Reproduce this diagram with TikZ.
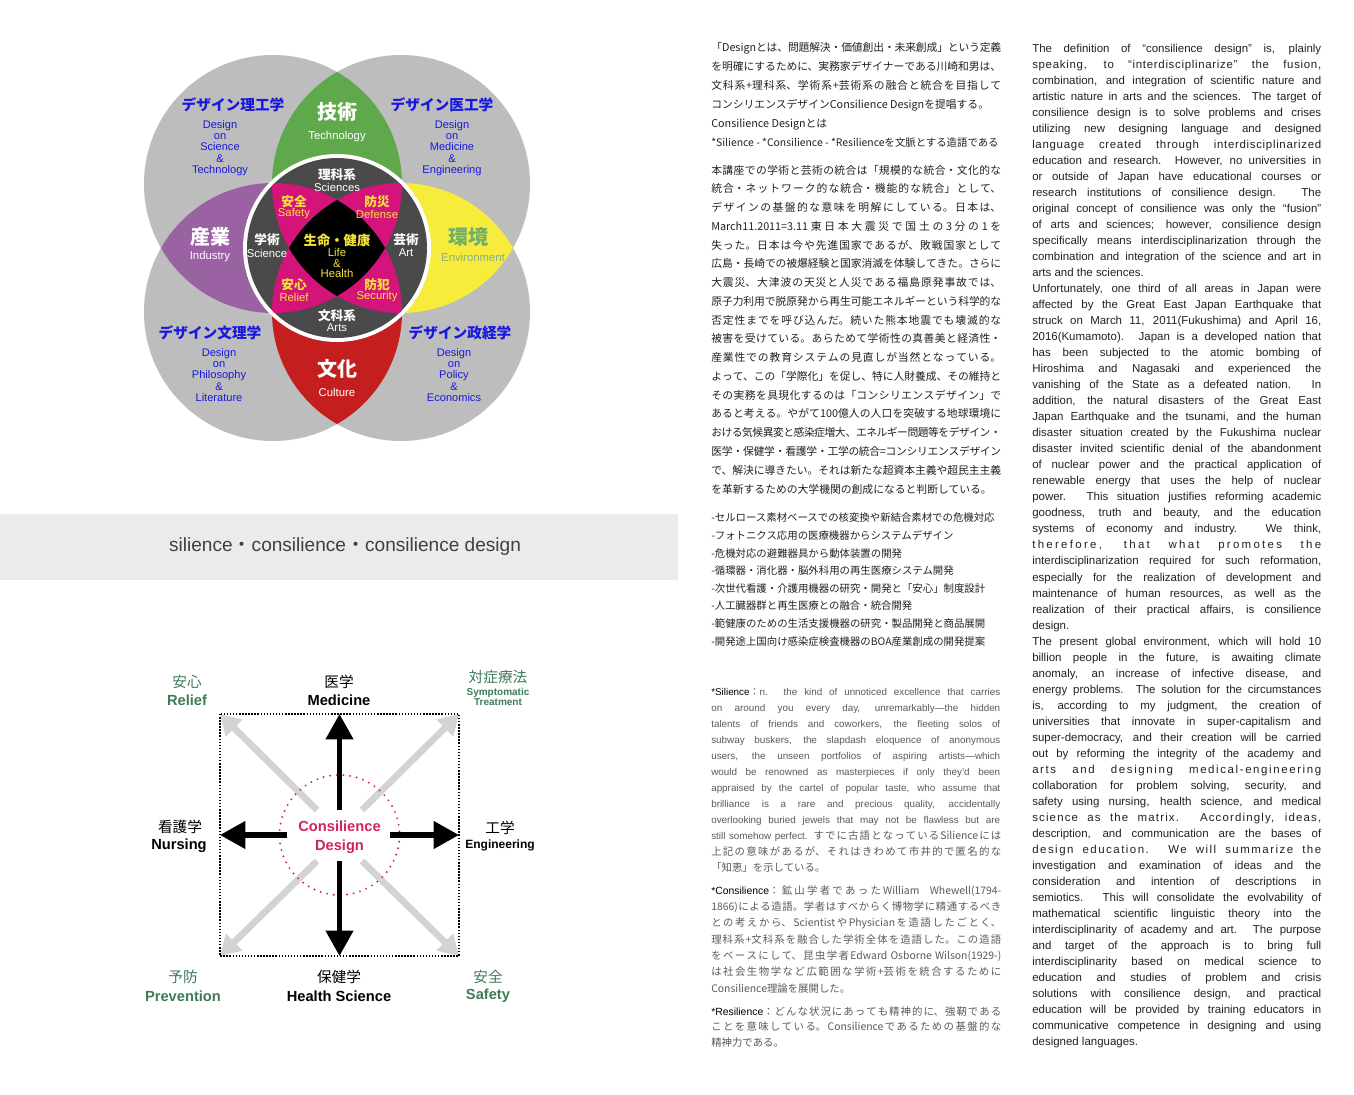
\documentclass[tikz,border=0pt]{standalone}
\usepackage{fontspec}
\setmainfont{Liberation Sans}
\newfontfamily\jp{Noto Sans CJK JP}
\usetikzlibrary{arrows.meta}

\definecolor{vgray}{HTML}{BDBDBD}
\definecolor{vgreen}{HTML}{5FA84C}
\definecolor{vpurple}{HTML}{9A62A2}
\definecolor{vyellow}{HTML}{F7EC3B}
\definecolor{vred}{HTML}{C41E1E}
\definecolor{vdark}{HTML}{4A4A4A}
\definecolor{vmag}{HTML}{D4137B}
\definecolor{vblue}{HTML}{1818E0}
\definecolor{vgold}{HTML}{F4E43A}
\definecolor{envgreen}{HTML}{6FAF6B}
\definecolor{envtext}{HTML}{86AD86}
\definecolor{labgreen}{HTML}{3E7B58}
\definecolor{cdred}{HTML}{D2245C}
\definecolor{band}{HTML}{EBEBEB}
\definecolor{arrgray}{HTML}{D3D3D3}
\definecolor{bodytext}{HTML}{222222}
\definecolor{notetext}{HTML}{5A5A5A}

\newlength\colw \setlength\colw{216.75pt}
\newlength\jw \setlength\jw{217.5pt}
\newcommand\jpset{\jp\XeTeXlinebreaklocale "ja"\XeTeXlinebreakskip=0pt plus 1.5pt minus 0.6pt\relax}
% english line, spread to the column
\newcommand\jl[1]{\makebox[\colw][s]{#1}\\}
% japanese line, spread to the column
\newcommand\jj[1]{\parbox[t]{\jw}{\tolerance=200\parfillskip=0pt\relax\leavevmode#1\par}\\}

\begin{document}
\begin{tikzpicture}[x=0.75pt, y=-0.75pt,
  every node/.style={inner sep=0pt},
  vtitle/.style={font=\jp\bfseries\fontsize{11}{11}\selectfont, text=vblue},
  vsub/.style={align=center, font=\fontsize{8.3}{8.4}\selectfont, text=vblue},
  vbig/.style={font=\jp\bfseries\fontsize{15}{15}\selectfont, text=white},
  ven/.style={font=\fontsize{8.5}{8.5}\selectfont, text=white},
  vmid/.style={font=\jp\bfseries\fontsize{9.5}{9.5}\selectfont, text=white},
  petal/.style={vmid, text=vgold},
  petalen/.style={ven, text=vgold},
  bjp/.style={font=\jp\fontsize{11}{11}\selectfont},
  ben/.style={font=\bfseries\fontsize{11}{11}\selectfont},
  blackarrow/.style={line width=3.9pt, -{Triangle[width=20pt,length=19pt]}},
  grayarrow/.style={draw=arrgray, line width=5pt, -{Triangle[width=17pt,length=15pt]}},
  sqdot/.style={line width=1.1pt, dash pattern=on 1.1pt off 1.2pt},
  cdcircle/.style={draw=cdred, line width=1.6pt, line cap=round, dash pattern=on 0pt off 5pt},
  jpblock/.style={anchor=base west, align=left},
  enblock/.style={anchor=base west, align=left, text=bodytext, font=\fontsize{8.6}{12.02}\selectfont}]

\useasboundingbox (0,0) rectangle (1354,1095);
\fill[white] (0,0) rectangle (1354,1095);

% ---- venn of four fields
\coordinate (tl) at (273,184);
\coordinate (tr) at (401,184);
\coordinate (bl) at (273,312);
\coordinate (br) at (401,312);
\coordinate (cc) at (337,248);

\fill[vgray] (tl) circle (129) (tr) circle (129) (bl) circle (129) (br) circle (129);
\begin{scope}\clip (tl) circle (129); \fill[vgreen] (tr) circle (129);\end{scope}
\begin{scope}\clip (tl) circle (129); \fill[vpurple] (bl) circle (129);\end{scope}
\begin{scope}\clip (tr) circle (129); \fill[vyellow] (br) circle (129);\end{scope}
\begin{scope}\clip (bl) circle (129); \fill[vred] (br) circle (129);\end{scope}

\fill[white] (cc) circle (94);
\fill[vdark] (cc) circle (90);
% three fields overlap
\begin{scope}
  \clip (cc) circle (90); \clip (tl) circle (129); \clip (tr) circle (129);
  \fill[vmag] (bl) circle (129) (br) circle (129);
\end{scope}
\begin{scope}
  \clip (cc) circle (90); \clip (bl) circle (129); \clip (br) circle (129);
  \fill[vmag] (tl) circle (129) (tr) circle (129);
\end{scope}
% all four
\begin{scope}
  \clip (tl) circle (129); \clip (tr) circle (129); \clip (bl) circle (129);
  \fill[black] (br) circle (129);
\end{scope}

\node[vtitle] (dst) at (233,105) {デザイン理工学};
\node[vsub] (dstEn) at (220,148) {Design\\on\\Science\\\&\\Technology};
\node[vtitle] (dme) at (442,105) {デザイン医工学};
\node[vsub] (dmeEn) at (452,148) {Design\\on\\Medicine\\\&\\Engineering};
\node[vtitle] (dpl) at (210,333) {デザイン文理学};
\node[vsub] (dplEn) at (219,375) {Design\\on\\Philosophy\\\&\\Literature};
\node[vtitle] (dpe) at (460,333) {デザイン政経学};
\node[vsub] (dpeEn) at (454,375) {Design\\on\\Policy\\\&\\Economics};

\node[vbig] (tech) at (337,112) {技術};
\node[ven] (techEn) at (337,137) {Technology};
\node[vbig] (ind) at (210,237) {産業};
\node[ven] (indEn) at (210,257) {Industry};
\node[vbig, text=envgreen] (env) at (468,237) {環境};
\node[ven, text=envtext] (envEn) at (473,257) {Environment};
\node[vbig] (cul) at (337,369) {文化};
\node[ven] (culEn) at (337,392) {Culture};

\node[vmid] (sci) at (337,175) {理科系};
\node[ven] (sciEn) at (337,187) {Sciences};
\node[vmid] (arts) at (337,316) {文科系};
\node[ven] (artsEn) at (337,328) {Arts};
\node[vmid] (gak) at (267,240) {学術};
\node[ven] (gakEn) at (267,253) {Science};
\node[vmid] (gei) at (406,240) {芸術};
\node[ven] (geiEn) at (406,253) {Art};

\node[petal] (saf) at (294,202) {安全};
\node[petalen] (safEn) at (294,214) {Safety};
\node[petal] (def) at (377,202) {防災};
\node[petalen] (defEn) at (377,214) {Defense};
\node[petal] (rel) at (294,285) {安心};
\node[petalen] (relEn) at (294,297) {Relief};
\node[petal] (sec) at (377,285) {防犯};
\node[petalen] (secEn) at (377,297) {Security};
\node[petal, font=\jp\bfseries\fontsize{10}{10}\selectfont] (life) at (337,240) {生命・健康};
\node[petalen, align=center, font=\fontsize{8.5}{7.6}\selectfont] (lifeEn) at (337,263) {Life\\\&\\Health};

% ---- band
\fill[band] (0,514) rectangle (678,580);
\node[font=\fontsize{14.3}{14.3}\selectfont, text=black!75] (band) at (345,547)
  {silience{\jp・}consilience{\jp・}consilience design};

% ---- consilience design cross
\coordinate (ctr) at (339.5,835);
\coordinate (nw) at (220,714);
\coordinate (ne) at (459,714);
\coordinate (sw) at (220,956);
\coordinate (se) at (459,956);
\coordinate (gnw) at (317,810);
\coordinate (gne) at (362,810);
\coordinate (gsw) at (317,861);
\coordinate (gse) at (362,861);
\coordinate (bn0) at (339.5,810);
\coordinate (bn) at (339.5,714);
\coordinate (bs0) at (339.5,861);
\coordinate (bs) at (339.5,956);
\coordinate (bw0) at (287,835);
\coordinate (bw) at (220,835);
\coordinate (be0) at (390,835);
\coordinate (be) at (459,835);

\foreach \a/\b in {gnw/nw, gne/ne, gsw/sw, gse/se}
  \draw[grayarrow] (\a) -- (\b);
\draw[sqdot] (nw) rectangle (se);
\draw[cdcircle] (ctr) circle (60);
\foreach \a/\b in {bn0/bn, bs0/bs, bw0/bw, be0/be}
  \draw[blackarrow] (\a) -- (\b);

\node[ben, text=cdred, align=center, font=\bfseries\fontsize{11}{14.3}\selectfont] (cd) at (339.5,837) {Consilience\\Design};

\node[bjp, text=labgreen] (anshin) at (187,682) {安心};
\node[ben, text=labgreen] (anshinEn) at (187,700) {Relief};
\node[bjp] (igaku) at (339,682) {医学};
\node[ben] (igakuEn) at (339,700) {Medicine};
\node[bjp, text=labgreen] (taisho) at (498,677) {対症療法};
\node[ben, text=labgreen, align=center, font=\bfseries\fontsize{7.5}{8}\selectfont] (taishoEn) at (498,697) {Symptomatic\\Treatment};
\node[bjp] (kango) at (180,827) {看護学};
\node[ben] (kangoEn) at (179,846) {Nursing};
\node[bjp] (kogaku) at (500,828) {工学};
\node[ben, font=\bfseries\fontsize{9}{9}\selectfont] (kogakuEn) at (500,845) {Engineering};
\node[bjp, text=labgreen] (yobo) at (183,977) {予防};
\node[ben, text=labgreen] (yoboEn) at (183,996) {Prevention};
\node[bjp] (hoken) at (339,977) {保健学};
\node[ben] (hokenEn) at (339,996) {Health Science};
\node[bjp, text=labgreen] (anzen) at (488,977) {安全};
\node[ben, text=labgreen] (anzenEn) at (488,996) {Safety};

% ---- japanese column (base = last line)
\node[jpblock, text=bodytext, font=\jpset\fontsize{8.1}{14.25}\selectfont] (jpA) at (711,147) {%
\jj{「Designとは、問題解決・価値創出・未来創成」という定義}
\jj{を明確にするために、実務家デザイナーである川崎和男は、}
\jj{文科系+理科系、学術系+芸術系の融合と統合を目指して}
コンシリエンスデザインConsilience Designを提唱する。\\
Consilience Designとは\\
{\fontsize{7.8}{14.25}\selectfont *Silience - *Consilience - *Resilienceを文脈とする造語である}};

\node[jpblock, text=bodytext, font=\jpset\fontsize{8.1}{14.07}\selectfont] (jpB) at (711,493) {%
\jj{本講座での学術と芸術の統合は「規模的な統合・文化的な}
\jj{統合・ネットワーク的な統合・機能的な統合」として、}
\jj{デザインの基盤的な意味を明解にしている。日本は、}
\jj{March11.2011=3.11東日本大震災で国土の3分の1を}
\jj{失った。日本は今や先進国家であるが、敗戦国家として}
\jj{広島・長崎での被爆経験と国家消滅を体験してきた。さらに}
\jj{大震災、大津波の天災と人災である福島原発事故では、}
\jj{原子力利用で脱原発から再生可能エネルギーという科学的な}
\jj{否定性までを呼び込んだ。続いた熊本地震でも壊滅的な}
\jj{被害を受けている。あらためて学術性の真善美と経済性・}
\jj{産業性での教育システムの見直しが当然となっている。}
\jj{よって、この「学際化」を促し、特に人財養成、その維持と}
\jj{その実務を具現化するのは「コンシリエンスデザイン」で}
\jj{あると考える。やがて100億人の人口を突破する地球環境に}
\jj{おける気候異変と感染症増大、エネルギー問題等をデザイン・}
\jj{医学・保健学・看護学・工学の統合=コンシリエンスデザイン}
\jj{で、解決に導きたい。それは新たな超資本主義や超民主主義}
を革新するための大学機関の創成になると判断している。};

\node[jpblock, text=bodytext, font=\jp\fontsize{7.8}{13.2}\selectfont] (jpC) at (711,645) {%
-セルロース素材ベースでの核変換や新結合素材での危機対応\\
-フォトニクス応用の医療機器からシステムデザイン\\
-危機対応の避難器具から動体装置の開発\\
-循環器・消化器・脳外科用の再生医療システム開発\\
-次世代看護・介護用機器の研究・開発と「安心」制度設計\\
-人工臓器群と再生医療との融合・統合開発\\
-範健康のための生活支援機器の研究・製品開発と商品展開\\
-開発途上国向け感染症検査機器のBOA産業創成の開発提案};

\node[jpblock, text=notetext, font=\fontsize{7.4}{12}\selectfont] (noteS) at (711,871) {%
\jl{\textcolor{black}{*Silience}{\jp ：}n. the kind of unnoticed excellence that carries}
\jl{on around you every day, unremarkably---the hidden}
\jl{talents of friends and coworkers, the fleeting solos of}
\jl{subway buskers, the slapdash eloquence of anonymous}
\jl{users, the unseen portfolios of aspiring artists---which}
\jl{would be renowned as masterpieces if only they'd been}
\jl{appraised by the cartel of popular taste, who assume that}
\jl{brilliance is a rare and precious quality, accidentally}
\jl{overlooking buried jewels that may not be flawless but are}
\jj{still somehow perfect. {\jpset\fontsize{7.8}{12}\selectfont すでに古語となっているSilienceには}}
\jj{\jpset\fontsize{7.8}{12}\selectfont 上記の意味があるが、それはきわめて市井的で匿名的な}
{\jp\fontsize{7.8}{12}\selectfont 「知恵」を示している。}};

\node[jpblock, text=notetext, font=\jpset\fontsize{7.8}{12.2}\selectfont] (noteC) at (711,992) {%
\jj{\textcolor{black}{\rmfamily *Consilience}：鉱山学者であったWilliam\quad Whewell(1794-}
\jj{1866)による造語。学者はすべからく博物学に精通するべき}
\jj{との考えから、ScientistやPhysicianを造語したごとく、}
\jj{理科系+文科系を融合した学術全体を造語した。この造語}
\jj{をベースにして、昆虫学者Edward Osborne Wilson(1929-)}
\jj{は社会生物学など広範囲な学術+芸術を統合するために}
Consilience理論を展開した。};

\node[jpblock, text=notetext, font=\jpset\fontsize{7.8}{11.6}\selectfont] (noteR) at (711,1046) {%
\jj{\textcolor{black}{\rmfamily *Resilience}：どんな状況にあっても精神的に、強靭である}
\jj{ことを意味している。Consilienceであるための基盤的な}
精神力である。};

% ---- english column (base = last line)
\node[enblock] (enA) at (1032,276.4) {%
\jl{The definition of “consilience design” is, plainly}
\jl{\addfontfeature{LetterSpace=6}speaking, to “interdisciplinarize” the fusion,}
\jl{combination, and integration of scientific nature and}
\jl{artistic nature in arts and the sciences. The target of}
\jl{consilience design is to solve problems and crises}
\jl{utilizing new designing language and designed}
\jl{\addfontfeature{LetterSpace=6}language created through interdisciplinarized}
\jl{education and research. However, no universities in}
\jl{or outside of Japan have educational courses or}
\jl{research institutions of consilience design. The}
\jl{original concept of consilience was only the “fusion”}
\jl{of arts and sciences; however, consilience design}
\jl{specifically means interdisciplinarization through the}
\jl{combination and integration of the science and art in}
arts and the sciences.};

\node[enblock] (enB) at (1032,629.1) {%
\jl{Unfortunately, one third of all areas in Japan were}
\jl{affected by the Great East Japan Earthquake that}
\jl{struck on March 11, 2011(Fukushima) and April 16,}
\jl{2016(Kumamoto). Japan is a developed nation that}
\jl{has been subjected to the atomic bombing of}
\jl{Hiroshima and Nagasaki and experienced the}
\jl{vanishing of the State as a defeated nation. In}
\jl{addition, the natural disasters of the Great East}
\jl{Japan Earthquake and the tsunami, and the human}
\jl{disaster situation created by the Fukushima nuclear}
\jl{disaster invited scientific denial of the abandonment}
\jl{of nuclear power and the practical application of}
\jl{renewable energy that uses the help of nuclear}
\jl{power. This situation justifies reforming academic}
\jl{goodness, truth and beauty, and the education}
\jl{systems of economy and industry. We think,}
\jl{\addfontfeature{LetterSpace=20}therefore, that what promotes the}
\jl{interdisciplinarization required for such reformation,}
\jl{especially for the realization of development and}
\jl{maintenance of human resources, as well as the}
\jl{realization of their practical affairs, is consilience}
design.};

\node[enblock] (enC) at (1032,1045.8) {%
\jl{The present global environment, which will hold 10}
\jl{billion people in the future, is awaiting climate}
\jl{anomaly, an increase of infective disease, and}
\jl{energy problems. The solution for the circumstances}
\jl{is, according to my judgment, the creation of}
\jl{universities that innovate in super-capitalism and}
\jl{super-democracy, and their creation will be carried}
\jl{out by reforming the integrity of the academy and}
\jl{\addfontfeature{LetterSpace=14}arts and designing medical-engineering}
\jl{collaboration for problem solving, security, and}
\jl{safety using nursing, health science, and medical}
\jl{\addfontfeature{LetterSpace=10}science as the matrix. Accordingly, ideas,}
\jl{description, and communication are the bases of}
\jl{\addfontfeature{LetterSpace=13}design education. We will summarize the}
\jl{investigation and examination of ideas and the}
\jl{consideration and intention of descriptions in}
\jl{semiotics. This will consolidate the evolvability of}
\jl{mathematical scientific linguistic theory into the}
\jl{interdisciplinarity of academy and art. The purpose}
\jl{and target of the approach is to bring full}
\jl{interdisciplinarity based on medical science to}
\jl{education and studies of problem and crisis}
\jl{solutions with consilience design, and practical}
\jl{education will be provided by training educators in}
\jl{communicative competence in designing and using}
designed languages.};
\end{tikzpicture}
\end{document}
